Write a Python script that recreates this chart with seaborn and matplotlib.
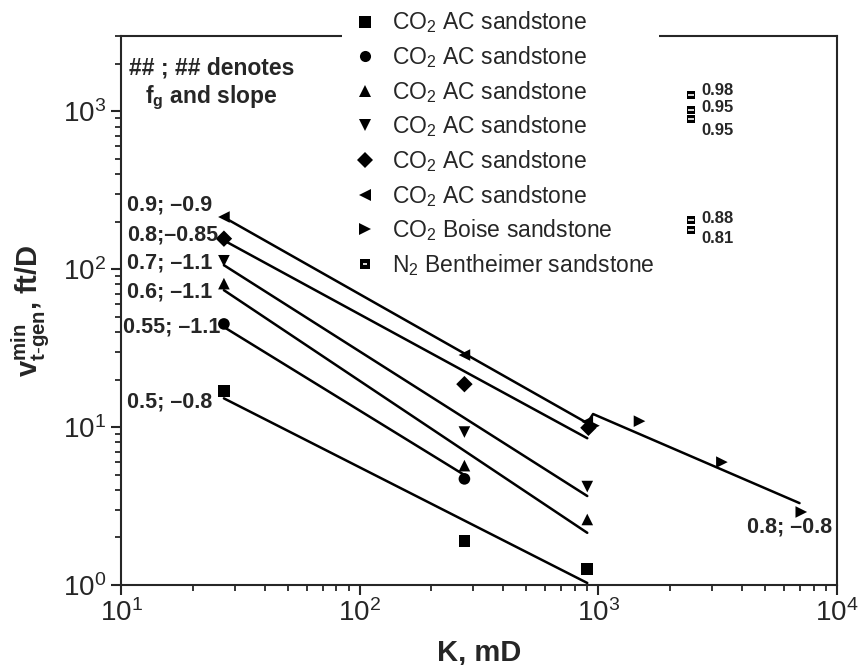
import numpy as np
import pandas as pd
import matplotlib.pyplot as plt
import seaborn as sns
from matplotlib.lines import Line2D
from matplotlib.legend_handler import HandlerTuple

# measured points (K in mD, minimum generation velocity in ft/D)
sq_k = [27, 275, 900]
sq_v = [17, 1.9, 1.26]
ci_k = [27, 275]
ci_v = [45, 4.7]
up_k = [27, 275, 900]
up_v = [81, 5.7, 2.6]
dn_k = [27, 275, 900]
dn_v = [113, 9.3, 4.2]
di_k = [27, 275, 910]
di_v = [156, 18.7, 9.9]
lt_k = [27, 275, 900]
lt_v = [214, 28.6, 10.8]
boise_k = [960, 1490, 3300, 7100]
boise_v = [10.2, 10.9, 6.0, 2.9]
n2_k = [2450, 2450, 2450, 2450, 2450]
n2_v = [1262, 1025, 899, 204, 177]
n2_fg = ["0.98", "0.95", "0.95", "0.88", "0.81"]

# fitted trend lines (end points)
fit_sq_k, fit_sq_v = [27, 900], [15.2, 1.03]
fit_ci_k, fit_ci_v = [27, 275], [43, 4.97]
fit_up_k, fit_up_v = [27, 900], [73.6, 2.14]
fit_dn_k, fit_dn_v = [27, 900], [106, 3.66]
fit_di_k, fit_di_v = [27, 900], [152, 8.5]
fit_lt_k, fit_lt_v = [27, 900], [213, 10.6]
fit_rt_k, fit_rt_v = [900, 952, 6980], [10.6, 12.1, 3.3]

ac_label = r"CO$_2$ AC sandstone"
legend_labels = [ac_label] * 6 + [r"CO$_2$ Boise sandstone", r"N$_2$ Bentheimer sandstone"]
marker_list = ["s", "o", "^", "v", "D", "<", ">"]

# left-hand annotations: fg ; slope
ann_text = ["0.9; \u20130.9", "0.8;\u20130.85", "0.7; \u20131.1", "0.6; \u20131.1", "0.55; \u20131.1", "0.5; \u20130.8"]
ann_x = [10.6, 10.6, 10.6, 10.6, 10.2, 10.6]
ann_y = [254, 164, 109, 71.5, 43, 14.4]

sns.set_style("ticks")
plt.rcParams["font.family"] = ["Liberation Sans", "DejaVu Sans"]
plt.rcParams["mathtext.fontset"] = "custom"
plt.rcParams["mathtext.rm"] = "Liberation Sans"
plt.rcParams["mathtext.it"] = "Liberation Sans:italic"
plt.rcParams["mathtext.bf"] = "Liberation Sans:bold"

pts = pd.concat([
    pd.DataFrame({"K": k, "v": v, "series": s})
    for k, v, s in [(sq_k, sq_v, "sq"), (ci_k, ci_v, "ci"), (up_k, up_v, "up"),
                    (dn_k, dn_v, "dn"), (di_k, di_v, "di"), (lt_k, lt_v, "lt"),
                    (boise_k, boise_v, "rt")]
], ignore_index=True)

fits = pd.concat([
    pd.DataFrame({"K": k, "v": v, "series": s})
    for k, v, s in [(fit_sq_k, fit_sq_v, "sq"), (fit_ci_k, fit_ci_v, "ci"), (fit_up_k, fit_up_v, "up"),
                    (fit_dn_k, fit_dn_v, "dn"), (fit_di_k, fit_di_v, "di"), (fit_lt_k, fit_lt_v, "lt"),
                    (fit_rt_k, fit_rt_v, "rt")]
], ignore_index=True)

n2 = pd.DataFrame({"K": n2_k, "v": n2_v})

fig, ax = plt.subplots(figsize=(8.6, 6.65), dpi=100)
fig.subplots_adjust(left=0.1407, right=0.973, top=0.946, bottom=0.1203)

ax.set_xscale("log")
ax.set_yscale("log")

sns.lineplot(data=fits, x="K", y="v", units="series", estimator=None, sort=False,
             color="black", linewidth=1.8, ax=ax, legend=False)
sns.scatterplot(data=pts, x="K", y="v", style="series",
                markers=dict(zip(["sq", "ci", "up", "dn", "di", "lt", "rt"], marker_list)),
                color="black", s=70, edgecolor="black", linewidth=0, ax=ax, legend=False, zorder=3)
sns.scatterplot(data=n2, x="K", y="v", marker="s", color="black", s=40,
                edgecolor="black", linewidth=0, ax=ax, legend=False, zorder=3)
sns.scatterplot(data=n2, x="K", y="v", marker="_", color="white", s=14,
                linewidth=1.2, ax=ax, legend=False, zorder=4)

ax.set_xlim(10, 1e4)
ax.set_ylim(1, 3000)

ax.set_xlabel("K, mD", fontsize=21, fontweight="bold", labelpad=8)
ax.set_ylabel(r"$\mathbf{v}_{\mathbf{t\text{-}gen}}^{\mathbf{min}}$, ft/D", fontsize=21,
              fontweight="bold", labelpad=8)

ax.tick_params(axis="both", which="major", labelsize=20, length=7, width=1.5, direction="out")
ax.tick_params(axis="both", which="minor", length=4.5, width=1.3, direction="out")
for sp in ax.spines.values():
    sp.set_linewidth(1.5)

for t, x, y in zip(ann_text, ann_x, ann_y):
    ax.text(x, y, t, fontsize=15.5, fontweight="bold", ha="left", va="center")

ax.text(4200, 2.34, "0.8; \u20130.8", fontsize=15.5, fontweight="bold", ha="left", va="center")

for y, t in zip([1358, 1060, 759, 210, 157], n2_fg):
    ax.text(2700, y, t, fontsize=12, fontweight="bold", ha="left", va="center")

ax.text(24, 1872, "## ; ## denotes", fontsize=16.5, fontweight="bold", ha="center", va="center")
ax.text(24, 1208, r"$\mathbf{f}_{\mathbf{g}}$ and slope", fontsize=16.5, fontweight="bold",
        ha="center", va="center")

handles = [Line2D([], [], marker=m, linestyle="none", color="black", markersize=8, markeredgewidth=0)
           for m in marker_list]
n2_handle = (Line2D([], [], marker="s", linestyle="none", color="black", markersize=6.5, markeredgewidth=0),
             Line2D([], [], marker="_", linestyle="none", color="white", markersize=3.5, markeredgewidth=1.2))
handles.append(n2_handle)

leg = ax.legend(handles, legend_labels, loc="upper left", bbox_to_anchor=(342 / 860, 1 - 5 / 665),
                bbox_transform=fig.transFigure, fontsize=16.5, frameon=True, framealpha=1,
                facecolor="white", edgecolor="none", fancybox=False, borderpad=0.2,
                borderaxespad=0, handlelength=1.6, handletextpad=0.37, labelspacing=0.38,
                handler_map={tuple: HandlerTuple(ndivide=1)})
leg.set_zorder(5)

fig.savefig("out.png", dpi=100)
